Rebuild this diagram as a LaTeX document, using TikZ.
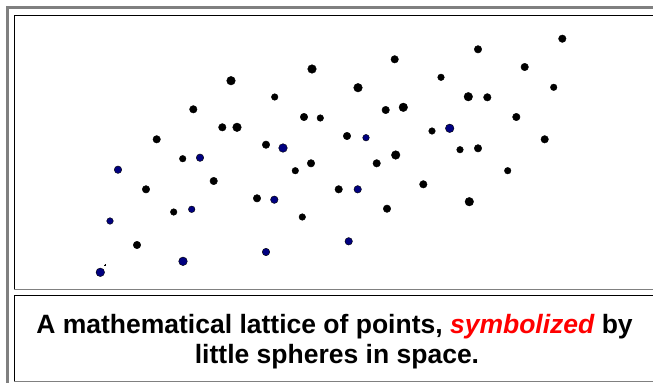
\documentclass[tikz,border=0pt]{standalone}
\usepackage{fontspec}
\setmainfont{Liberation Sans}
\usepackage{xcolor}
\definecolor{framegray}{RGB}{128,128,128}
\definecolor{spherenavy}{RGB}{0,0,128}

\begin{document}
\begin{tikzpicture}[x=1pt,y=-1pt]
  \tikzset{sphere/.style={circle,fill=black,draw=black,line width=0.4pt,inner sep=0pt,minimum size=7.5pt}}
  \tikzset{bigsphere/.style={sphere,minimum size=8.6pt}}
  \tikzset{smallsphere/.style={sphere,minimum size=6.6pt}}
  \tikzset{bluesphere/.style={fill=spherenavy}}
  \tikzset{captionline/.style={anchor=base,inner sep=0pt,font=\fontsize{26.5}{30}\selectfont\bfseries}}
  \useasboundingbox (0,0) rectangle (653,383);
  % frames
  \fill[framegray] (6,6) rectangle (9,383);
  \fill[framegray] (6,6) rectangle (653,9);
  \draw[black,line width=1pt] (653,15.5) -- (14.5,15.5) -- (14.5,289);
  \draw[framegray,line width=1pt] (14,289.5) -- (653,289.5);
  \draw[black,line width=1pt] (653,295.5) -- (14.5,295.5) -- (14.5,381);
  \draw[framegray,line width=1pt] (14,381.5) -- (653,381.5);
  % blue spheres
  \node[bigsphere,bluesphere] (b1) at (100.3,272.3) {};
  \node[smallsphere,bluesphere] (b2) at (110.0,221.0) {};
  \node[sphere,bluesphere] (b3) at (118.0,169.7) {};
  \node[bigsphere,bluesphere] (b4) at (183.0,261.3) {};
  \node[smallsphere,bluesphere] (b5) at (191.7,209.3) {};
  \node[sphere,bluesphere] (b6) at (200.0,157.7) {};
  \node[sphere,bluesphere] (b7) at (266.0,252.0) {};
  \node[sphere,bluesphere] (b8) at (274.3,199.7) {};
  \node[bigsphere,bluesphere] (b9) at (283.0,148.0) {};
  \node[sphere,bluesphere] (b10) at (348.7,241.3) {};
  \node[sphere,bluesphere] (b11) at (357.7,189.3) {};
  \node[smallsphere,bluesphere] (b12) at (366.0,137.7) {};
  \node[bigsphere,bluesphere] (b13) at (449.7,128.3) {};
  % black spheres
  \node[sphere] (p1) at (193.3,109.3) {};
  \node[sphere] (p2) at (156.7,139.3) {};
  \node[smallsphere] (p3) at (182.7,158.7) {};
  \node[sphere] (p4) at (213.7,181.0) {};
  \node[sphere] (p5) at (146.0,189.3) {};
  \node[smallsphere] (p6) at (173.7,212.0) {};
  \node[sphere] (p7) at (137.0,245.0) {};
  \node[bigsphere] (p8) at (231.0,80.7) {};
  \node[bigsphere] (p9) at (312.0,69.0) {};
  \node[sphere] (p10) at (394.7,59.3) {};
  \node[smallsphere] (p11) at (274.7,97.0) {};
  \node[bigsphere] (p12) at (358.0,87.7) {};
  \node[sphere] (p13) at (304.0,117.0) {};
  \node[smallsphere] (p14) at (320.3,118.0) {};
  \node[sphere] (p15) at (385.7,110.0) {};
  \node[bigsphere] (p16) at (403.3,107.3) {};
  \node[sphere] (p17) at (222.3,127.3) {};
  \node[bigsphere] (p18) at (237.0,127.3) {};
  \node[sphere] (p19) at (347.0,136.0) {};
  \node[sphere] (p20) at (266.0,144.7) {};
  \node[bigsphere] (p21) at (395.7,155.0) {};
  \node[sphere] (p22) at (311.0,163.3) {};
  \node[sphere] (p23) at (376.7,163.3) {};
  \node[smallsphere] (p24) at (295.3,170.7) {};
  \node[sphere] (p25) at (423.3,184.3) {};
  \node[sphere] (p26) at (338.7,189.3) {};
  \node[sphere] (p27) at (257.0,198.3) {};
  \node[sphere] (p28) at (387.0,208.7) {};
  \node[smallsphere] (p29) at (302.3,217.0) {};
  \node[sphere] (p30) at (562.3,38.7) {};
  \node[sphere] (p31) at (478.0,49.3) {};
  \node[sphere] (p32) at (524.7,67.0) {};
  \node[smallsphere] (p33) at (441.0,77.3) {};
  \node[smallsphere] (p34) at (553.7,87.3) {};
  \node[bigsphere] (p35) at (468.3,96.7) {};
  \node[sphere] (p36) at (487.3,97.3) {};
  \node[sphere] (p37) at (516.3,117.0) {};
  \node[smallsphere] (p38) at (432.0,131.0) {};
  \node[sphere] (p39) at (544.7,139.3) {};
  \node[smallsphere] (p40) at (460.0,149.7) {};
  \node[sphere] (p41) at (478.0,148.3) {};
  \node[smallsphere] (p42) at (507.7,170.7) {};
  \node[bigsphere] (p43) at (469.3,201.7) {};
  \node[sphere,minimum size=1.2pt,line width=0pt] (speck) at (105.3,265.0) {};
  % caption
  \node[captionline] (caption1) at (334.5,333.3) {A mathematical lattice of points, \textcolor{red}{\itshape symbolized} by};
  \node[captionline] (caption2) at (337.0,363.3) {little spheres in space.};
\end{tikzpicture}
\end{document}
